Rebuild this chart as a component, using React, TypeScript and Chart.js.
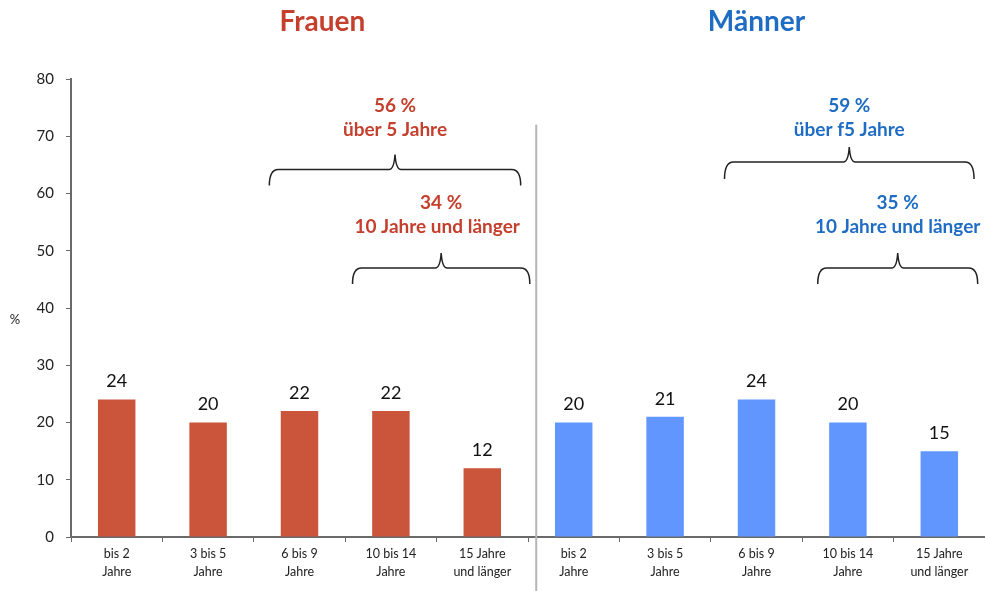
import React, { useEffect, useRef } from "react";
import { Chart, registerables } from "chart.js";

Chart.register(...registerables);

const groupTitles = ["Frauen", "Männer"];
const categoryLabels: string[][] = [
  ["bis 2", "Jahre"],
  ["3 bis 5", "Jahre"],
  ["6 bis 9", "Jahre"],
  ["10 bis 14", "Jahre"],
  ["15 Jahre", "und länger"],
];
const frauenValues = [24, 20, 22, 22, 12];
const maennerValues = [20, 21, 24, 20, 15];
const bracePercents = ["56 %", "34 %", "59 %", "35 %"];
const braceTexts = ["über 5 Jahre", "10 Jahre und länger", "über f5 Jahre", "10 Jahre und länger"];
const yTicks = [0, 10, 20, 30, 40, 50, 60, 70, 80];

const RED = "#C43F2C";
const BLUE = "#1F6CC4";
const RED_BAR = "#CB553A";
const BLUE_BAR = "#6196FF";
const FONT = "Lato, 'Open Sans', sans-serif";

function drawBrace(ctx: CanvasRenderingContext2D, x1: number, x2: number, y: number, drop: number, rise: number) {
  const xm = (x1 + x2) / 2;
  ctx.beginPath();
  ctx.moveTo(x1, y + drop);
  ctx.quadraticCurveTo(x1, y, x1 + 9, y);
  ctx.lineTo(xm - 6, y);
  ctx.quadraticCurveTo(xm - 1, y, xm, y - rise);
  ctx.quadraticCurveTo(xm + 1, y, xm + 6, y);
  ctx.lineTo(x2 - 9, y);
  ctx.quadraticCurveTo(x2, y, x2, y + drop);
  ctx.stroke();
}

const overlayPlugin = {
  id: "overlay",
  afterDraw(chart: any) {
    const ctx: CanvasRenderingContext2D = chart.ctx;
    const xs = chart.scales.x;
    const ys = chart.scales.y;
    const px = (i: number) => xs.getPixelForValue(i);
    const cw = px(1) - px(0);
    const py = (v: number) => ys.getPixelForValue(v);
    ctx.save();

    // value labels
    const meta = chart.getDatasetMeta(0);
    ctx.font = `18px ${FONT}`;
    ctx.fillStyle = "#111";
    ctx.textAlign = "center";
    ctx.textBaseline = "middle";
    meta.data.forEach((bar: any, i: number) => {
      const v = chart.data.datasets[0].data[i];
      ctx.fillText(String(v), bar.x, bar.y - 18);
    });

    // divider
    const divX = (px(4) + px(5)) / 2 + 0.09 * cw;
    ctx.strokeStyle = "#B5B5B5";
    ctx.lineWidth = 2;
    ctx.beginPath();
    ctx.moveTo(divX, py(72));
    ctx.lineTo(divX, chart.height);
    ctx.stroke();

    // titles
    ctx.font = `bold 28px ${FONT}`;
    ctx.textBaseline = "middle";
    ctx.fillStyle = RED;
    ctx.fillText(groupTitles[0], px(2) + 0.25 * cw, 22);
    ctx.fillStyle = BLUE;
    ctx.fillText(groupTitles[1], px(7), 22);

    // % axis label
    ctx.font = `13px ${FONT}`;
    ctx.fillStyle = "#222";
    ctx.fillText("%", 15, py(38));

    // braces
    const braces = [
      { a: px(2) - 0.33 * cw, b: px(4) + 0.42 * cw, yv: 64.2, tv1: 75.3, tv2: 71.1, color: RED, i: 0 },
      { a: px(3) - 0.42 * cw, b: px(4) + 0.52 * cw, yv: 47.0, tv1: 58.3, tv2: 54.1, color: RED, i: 1 },
      { a: px(7) - 0.35 * cw, b: px(9) + 0.38 * cw, yv: 65.5, tv1: 75.3, tv2: 71.1, color: BLUE, i: 2 },
      { a: px(8) - 0.33 * cw, b: px(9) + 0.42 * cw, yv: 47.0, tv1: 58.3, tv2: 54.1, color: BLUE, i: 3 },
    ];
    braces.forEach((br) => {
      ctx.strokeStyle = "#222";
      ctx.lineWidth = 1.5;
      const yl = py(br.yv);
      drawBrace(ctx, br.a, br.b, yl, br.i === 2 ? 17 : 16, 15);
      const cx = (br.a + br.b) / 2;
      ctx.fillStyle = br.color;
      ctx.font = `bold 19px ${FONT}`;
      ctx.textAlign = "center";
      ctx.textBaseline = "middle";
      ctx.fillText(bracePercents[br.i], cx, py(br.tv1));
      ctx.fillText(braceTexts[br.i], cx - (br.i === 1 ? 4 : 0), py(br.tv2));
    });
    ctx.restore();
  },
};

export default function App() {
  const ref = useRef<HTMLCanvasElement>(null);
  useEffect(() => {
    if (!ref.current) return;
    const labels = [...categoryLabels, ...categoryLabels];
    const values = [...frauenValues, ...maennerValues];
    const colors = [...frauenValues.map(() => RED_BAR), ...maennerValues.map(() => BLUE_BAR)];
    const chart = new Chart(ref.current, {
      type: "bar",
      data: {
        labels,
        datasets: [
          {
            data: values,
            backgroundColor: colors,
            categoryPercentage: 1,
            barPercentage: 0.41,
          },
        ],
      },
      options: {
        animation: false,
        responsive: false,
        maintainAspectRatio: false,
        layout: { padding: { top: 79, right: 0, left: 0, bottom: 0 } },
        plugins: { legend: { display: false }, tooltip: { enabled: false } },
        scales: {
          x: {
            grid: { display: true, drawOnChartArea: false, drawTicks: true, tickLength: 5, color: "#6a6a6a", offset: true },
            border: { display: true, color: "#6a6a6a", width: 2 },
            ticks: {
              color: "#222",
              font: { family: FONT, size: 12.5, lineHeight: 1.45 },
              padding: 3,
              maxRotation: 0,
              autoSkip: false,
            },
            afterFit: (s: any) => {
              s.height = 54;
            },
          },
          y: {
            min: 0,
            max: 80,
            afterBuildTicks: (s: any) => {
              s.ticks = yTicks.map((v) => ({ value: v }));
            },
            grid: { display: true, drawOnChartArea: false, drawTicks: true, tickLength: 5, color: "#6a6a6a" },
            border: { display: true, color: "#6a6a6a", width: 2 },
            ticks: { color: "#222", font: { family: FONT, size: 15 }, padding: 12 },
            afterFit: (s: any) => {
              s.width = 71;
            },
          },
        },
      },
      plugins: [overlayPlugin],
    });
    return () => chart.destroy();
  }, []);
  return (
    <div style={{ position: "fixed", left: 0, top: 0, width: 985, height: 591, background: "#fff" }}>
      <canvas ref={ref} width={985} height={591} style={{ width: 985, height: 591, display: "block" }} />
    </div>
  );
}
